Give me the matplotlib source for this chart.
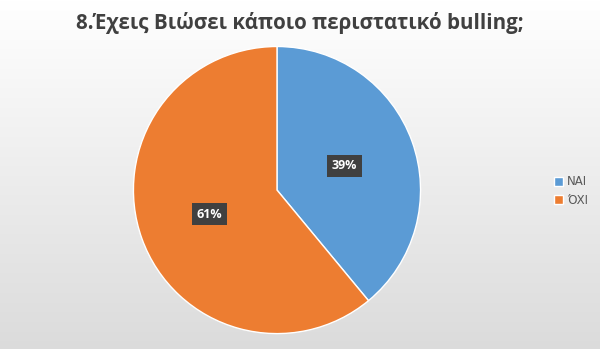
import numpy as np
import matplotlib

matplotlib.use("Agg")
import matplotlib.pyplot as plt

title = "8.Έχεις Βιώσει κάποιο περιστατικό bulling;"
labels = ["NAI", "ΌΧΙ"]
shares = [39, 61]
colors = ["#5b9bd5", "#ed7d31"]

fig = plt.figure(figsize=(6, 3.49), dpi=100)

# background gradient (white top -> light grey bottom)
bg = fig.add_axes([0, 0, 1, 1])
grad = np.linspace(1.0, 0.86, 256).reshape(-1, 1)
bg.imshow(np.dstack([grad, grad, grad]), aspect="auto", extent=[0, 1, 0, 1])
bg.set_axis_off()

ax = fig.add_axes([0.22, 0.04, 0.4833, 0.8309])
wedges, _ = ax.pie(
    shares,
    colors=colors,
    startangle=90,
    counterclock=False,
    wedgeprops={"edgecolor": "white", "linewidth": 1},
)
ax.set_xlim(-1.01, 1.01)
ax.set_ylim(-1.01, 1.01)
ax.set_aspect("equal")

# percentage labels in dark boxes
for w, v in zip(wedges, shares):
    ang = np.deg2rad((w.theta1 + w.theta2) / 2)
    r = 0.5
    ax.text(
        r * np.cos(ang), r * np.sin(ang), f"{v}%",
        ha="center", va="center", color="white", fontsize=9, fontweight="bold",
        family="Open Sans",
        bbox={"boxstyle": "square,pad=0.35", "facecolor": "#404040", "edgecolor": "none"},
    )

fig.text(0.5, 0.935, title, ha="center", va="center", fontsize=14.8,
         fontweight="bold", color="#404040", family="Open Sans")

fig.legend(wedges, labels, loc="center left", bbox_to_anchor=(0.905, 0.453),
           frameon=False, fontsize=8.5, handlelength=0.8, handleheight=0.8,
           handletextpad=0.3, labelspacing=0.45, labelcolor="#595959")

fig.savefig("out.png", dpi=100)
